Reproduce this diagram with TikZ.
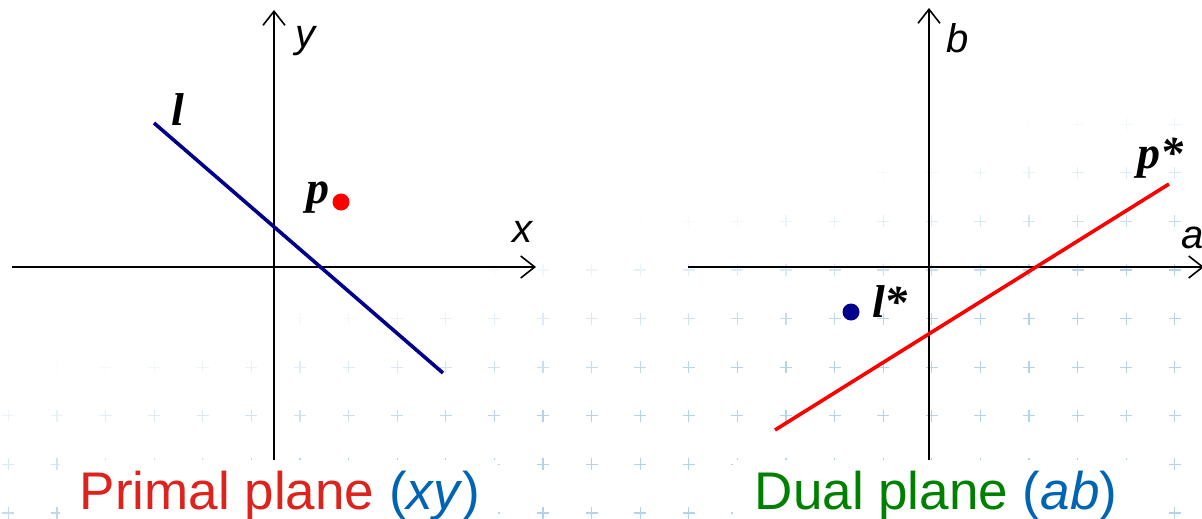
\documentclass[tikz,border=0pt]{standalone}
\usepackage{fontspec}
\setmainfont{Liberation Serif}
\newfontfamily\arial{Liberation Sans}
\usetikzlibrary{arrows.meta}
\definecolor{navyline}{RGB}{0,0,140}
\definecolor{redline}{RGB}{255,0,0}
\definecolor{capred}{RGB}{220,35,30}
\definecolor{capblue}{RGB}{0,100,180}
\definecolor{capgreen}{RGB}{0,128,0}
\definecolor{crosscol}{RGB}{160,200,230}
\begin{document}
\begin{tikzpicture}[x=1pt,y=-1pt,
  axis/.style={line width=1.6pt,-{Straight Barb[length=14pt,width=22pt,line width=1.6pt]}},
  geoline/.style={line width=3.6pt},
  axlabel/.style={font=\arial\itshape\fontsize{40}{44}\selectfont, anchor=base, inner sep=0pt},
  ptlabel/.style={font=\bfseries\itshape\fontsize{46}{50}\selectfont, anchor=base, inner sep=0pt},
  caption/.style={font=\arial\fontsize{53}{60}\selectfont, anchor=base, inner sep=0pt},
  dot/.style={circle, inner sep=0pt, minimum size=17pt}]
\useasboundingbox (0,0) rectangle (1202,519);
\fill[white] (0,0) rectangle (1202,519);
% faint background crosses
\foreach \i in {0,...,24}{
  \foreach \j in {0,...,9}{
    \pgfmathsetmacro\cx{8.4+48.6*\i}
    \pgfmathsetmacro\cy{513-48.6*\j}
    \pgfmathsetmacro\op{max(0,min(0.8,(\cx+4*\cy-1500)/900))}
    \draw[crosscol, line width=1.3pt, opacity=\op] (\cx-6,\cy) -- (\cx+6,\cy) (\cx,\cy-6) -- (\cx,\cy+6);
  }
}
\fill[white] (60,460) rectangle (498,519);
\fill[white] (733,460) rectangle (1138,519);
% primal plane
\coordinate (xl) at (12,267);
\coordinate (xr) at (536,267);
\coordinate (ybot) at (274,460);
\coordinate (ytop) at (274,10);
\draw[axis] (xl) -- (xr);
\draw[axis] (ybot) -- (ytop);
\node[axlabel] (ylab) at (305,48) {y};
\node[axlabel] (xlab) at (522,242) {x};
\coordinate (l1) at (154,123);
\coordinate (l2) at (443,373);
\draw[geoline, navyline] (l1) -- (l2);
\node[ptlabel] (llab) at (178,125) {l};
\node[dot, fill=redline] (p) at (341,202) {};
\node[ptlabel] (plab) at (318,203) {p};
% dual plane
\coordinate (al) at (688,267);
\coordinate (ar) at (1204,267);
\coordinate (bbot) at (929,460);
\coordinate (btop) at (929,8);
\draw[axis] (al) -- (ar);
\draw[axis] (bbot) -- (btop);
\node[axlabel] (blab) at (958,53) {b};
\node[axlabel] (alab) at (1193,248) {a};
\coordinate (r1) at (775,430);
\coordinate (r2) at (1169,184);
\draw[geoline, redline] (r1) -- (r2);
\node[ptlabel] (pslab) at (1160,168) {p*};
\node[dot, fill=navyline] (ls) at (851,312) {};
\node[ptlabel] (lslab) at (890,317) {l*};
% captions
\node[caption] (cap1) at (280,509) {\textcolor{capred}{Primal plane }\textcolor{capblue}{(\textit{xy})}};
\node[caption] (cap2) at (936,509) {\textcolor{capgreen}{Dual plane }\textcolor{capblue}{(\textit{ab})}};
\end{tikzpicture}
\end{document}
